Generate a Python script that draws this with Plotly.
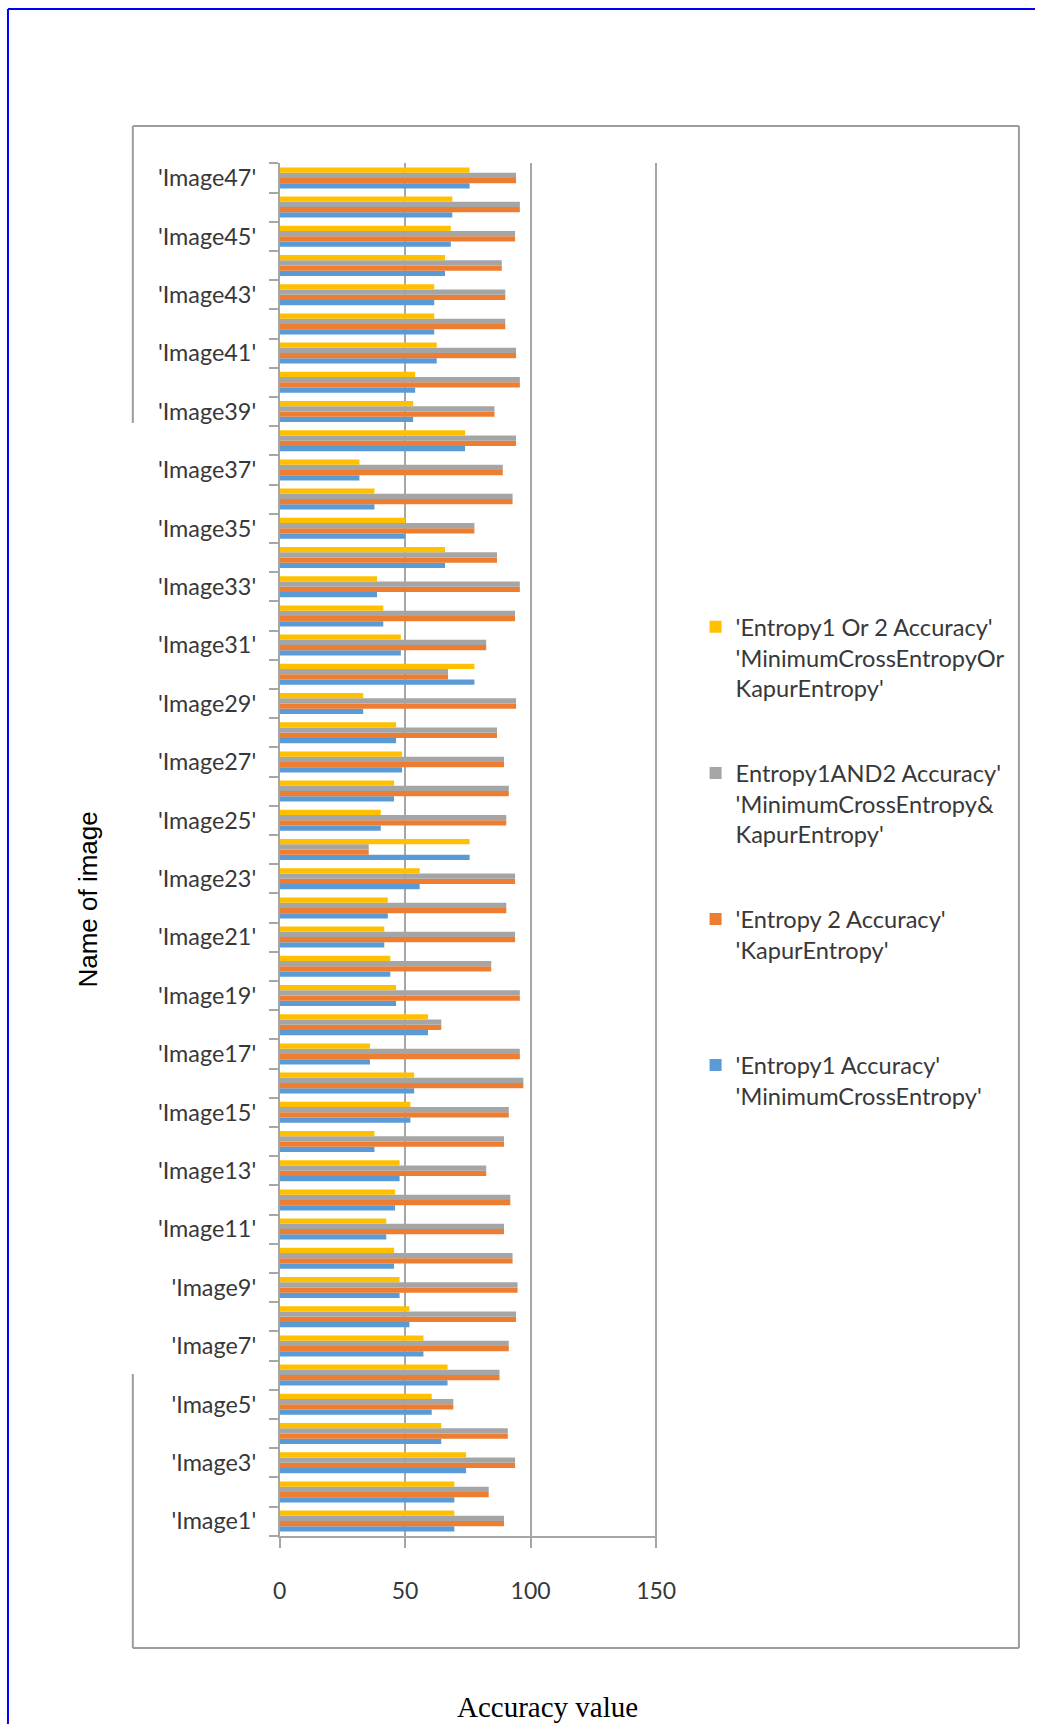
import plotly.graph_objects as go

# Image names (bottom to top) and accuracy values per thresholding method
images = [f"'Image{i}'" for i in range(1, 48)]

entropy1_acc = [69.6, 69.6, 74.3, 64.4, 60.6, 66.9, 57.3, 51.7, 47.8, 45.6,
                42.5, 46.0, 47.8, 37.8, 52.1, 53.6, 36.0, 59.1, 46.4, 44.1,
                41.7, 43.1, 55.8, 75.7, 40.3, 45.6, 48.8, 46.4, 33.3, 77.6,
                48.3, 41.3, 38.8, 65.9, 50.0, 37.8, 31.8, 73.9, 53.2, 54.0,
                62.6, 61.6, 61.6, 65.9, 68.2, 68.8, 75.7]

entropy2_acc = [89.4, 83.3, 93.8, 90.9, 69.2, 87.6, 91.3, 94.2, 94.8, 92.8,
                89.4, 91.9, 82.3, 89.4, 91.3, 97.1, 95.7, 64.4, 95.7, 84.3,
                93.8, 90.3, 93.8, 35.5, 90.3, 91.3, 89.4, 86.6, 94.2, 67.1,
                82.3, 93.8, 95.7, 86.6, 77.6, 92.8, 88.9, 94.2, 85.6, 95.7,
                94.2, 89.9, 89.9, 88.5, 93.8, 95.7, 94.2]

entropy1and2_acc = [89.4, 83.3, 93.8, 90.9, 69.2, 87.6, 91.3, 94.2, 94.8, 92.8,
                    89.4, 91.9, 82.3, 89.4, 91.3, 97.1, 95.7, 64.4, 95.7, 84.3,
                    93.8, 90.3, 93.8, 35.5, 90.3, 91.3, 89.4, 86.6, 94.2, 67.1,
                    82.3, 93.8, 95.7, 86.6, 77.6, 92.8, 88.9, 94.2, 85.6, 95.7,
                    94.2, 89.9, 89.9, 88.5, 93.8, 95.7, 94.2]

entropy1or2_acc = [69.6, 69.6, 74.3, 64.4, 60.6, 66.9, 57.3, 51.7, 47.8, 45.6,
                   42.5, 46.0, 47.8, 37.8, 52.1, 53.6, 36.0, 59.1, 46.4, 44.1,
                   41.7, 43.1, 55.8, 75.7, 40.3, 45.6, 48.8, 46.4, 33.3, 77.6,
                   48.3, 41.3, 38.8, 65.9, 50.0, 37.8, 31.8, 73.9, 53.2, 54.0,
                   62.6, 61.6, 61.6, 65.9, 68.2, 68.8, 75.7]

series_names = [
    "'Entropy1 Accuracy'<br>'MinimumCrossEntropy'<br> ",
    "'Entropy 2 Accuracy'<br>'KapurEntropy'<br> ",
    "Entropy1AND2 Accuracy'<br>'MinimumCrossEntropy&<br>KapurEntropy'",
    "'Entropy1 Or 2 Accuracy'<br>'MinimumCrossEntropyOr<br>KapurEntropy'",
]
series_values = [entropy1_acc, entropy2_acc, entropy1and2_acc, entropy1or2_acc]
series_colors = ["#5B9BD5", "#ED7D31", "#A5A5A5", "#FFC000"]
legend_ranks = [4, 3, 2, 1]

x_ticks = [0, 50, 100, 150]

W, H = 1054, 1724
LABEL_FONT = "Lato, Carlito, Calibri, Liberation Sans, sans-serif"
TEXT_COLOR = "#383838"
GRID = "#a6a6a6"

positions = list(range(1, len(images) + 1))

fig = go.Figure()
for i, (name, vals, col, rank) in enumerate(
        zip(series_names, series_values, series_colors, legend_ranks)):
    fig.add_trace(go.Bar(
        y=positions, x=vals, orientation="h", name=name,
        marker=dict(color=col, line=dict(width=0)),
        legendgroup=f"g{i}", legendrank=rank,
    ))


def px_x(x):
    return x / W


def px_y(y):
    return 1 - y / H


# page frame, chart-area frame (left edge interrupted behind the axis title)
shapes = []
blue = dict(color="#0000ff", width=2)
shapes.append(dict(type="line", xref="paper", yref="paper",
                   x0=px_x(1), x1=1, y0=px_y(9), y1=px_y(9), line=blue))
shapes.append(dict(type="line", xref="paper", yref="paper",
                   x0=px_x(1), x1=px_x(1), y0=px_y(9), y1=0, line=blue))
box = dict(color="#9c9c9c", width=2)
bx0, bx1, by0, by1 = 129, 1037.5, 126, 1648
for (x0, y0, x1, y1) in [(bx0, by0, bx1, by0), (bx1, by0, bx1, by1),
                         (bx0, by1, bx1, by1), (bx0, by0, bx0, 423),
                         (bx0, 1374, bx0, by1)]:
    shapes.append(dict(type="line", xref="paper", yref="paper",
                       x0=px_x(x0), x1=px_x(x1), y0=px_y(y0), y1=px_y(y1), line=box))

annotations = [
    dict(text="Accuracy value", xref="paper", yref="paper",
         x=px_x(554), y=px_y(1707), xanchor="center", yanchor="middle",
         showarrow=False,
         font=dict(family="Liberation Serif, Times New Roman, serif", size=29, color="#000000")),
    dict(text="Name of image", xref="paper", yref="paper",
         x=px_x(82.6), y=px_y(900), xanchor="center", yanchor="middle",
         showarrow=False, textangle=-90,
         font=dict(family="Liberation Sans, Arial, sans-serif", size=26, color="#000000")),
]

fig.update_layout(
    width=W, height=H, autosize=False,
    margin=dict(l=0, r=0, t=0, b=0),
    paper_bgcolor="white", plot_bgcolor="white",
    barmode="group", bargap=0.28, bargroupgap=0,
    shapes=shapes, annotations=annotations,
    showlegend=True,
    legend=dict(
        x=px_x(706), y=px_y(605), xanchor="left", yanchor="top",
        traceorder="grouped", tracegroupgap=51, valign="top",
        font=dict(family=LABEL_FONT, size=23.6, color=TEXT_COLOR),
        bgcolor="rgba(0,0,0,0)",
    ),
    xaxis=dict(
        domain=[px_x(279.5), px_x(666.6)], range=[0, 150.4],
        tickmode="array", tickvals=x_ticks, ticktext=[str(v) for v in x_ticks],
        showgrid=True, gridcolor=GRID, gridwidth=1.5, zeroline=False,
        showline=True, linecolor=GRID, linewidth=1.5,
        ticks="outside", ticklen=11, tickcolor=GRID, tickwidth=1.5,
        ticklabelstandoff=23,
        tickfont=dict(family=LABEL_FONT, size=23, color=TEXT_COLOR),
        fixedrange=True,
    ),
    yaxis=dict(
        domain=[px_y(1535.7), px_y(163.3)], range=[0.5, len(images) + 0.5],
        tickmode="array", tickvals=positions[::2], ticktext=images[::2],
        ticks="", showgrid=False, zeroline=False,
        showline=True, linecolor=GRID, linewidth=1.5,
        ticklabelstandoff=17,
        tickfont=dict(family=LABEL_FONT, size=23.4, color=TEXT_COLOR),
        minor=dict(tickmode="linear", tick0=0.5, dtick=1, ticks="outside",
                   ticklen=9, tickcolor=GRID, tickwidth=1.5, showgrid=False),
        fixedrange=True,
    ),
)

fig.write_html("out.html", config={"displayModeBar": False})
